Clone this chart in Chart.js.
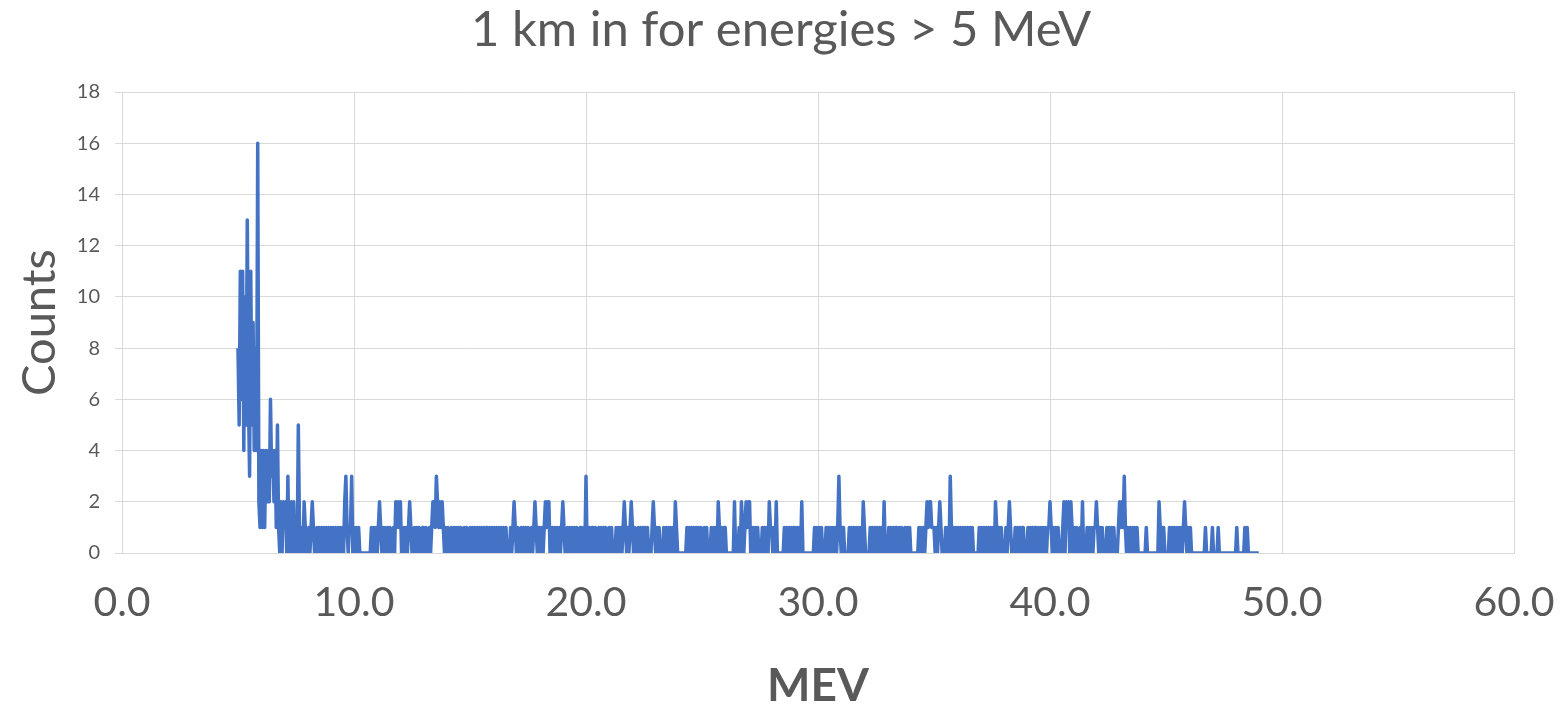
<!DOCTYPE html>
<html>
<head>
<meta charset="utf-8">
<script src="https://cdn.jsdelivr.net/npm/chart.js@4.4.0/dist/chart.umd.min.js"></script>
<style>
  html, body { margin: 0; padding: 0; background: #ffffff; }
  #wrap { width: 1562px; height: 705px; }
</style>
</head>
<body>
<div id="wrap"><canvas id="chart" width="1562" height="705"></canvas></div>
<script>
// Labels
const chartTitle = '1 km in for energies > 5 MeV';
const xAxisTitle = 'MEV';
const yAxisTitle = 'Counts';

// Energy bins: first bin and bin width, in MeV
const binStartMeV = 5.0;
const binWidthMeV = 0.05;

// Counts per 0.05 MeV bin, one row per MeV (5.00 … 49.00)
const counts = [
  8, 5, 11, 6, 11, 4, 10, 5, 13, 6,   3, 11, 5, 9, 4, 8, 4, 16, 2, 1,   // 5
  4, 1, 4, 1, 4, 2, 4, 2, 6, 3,       4, 2, 4, 1, 5, 1, 0, 2, 0, 2,     // 6
  1, 2, 0, 3, 0, 1, 2, 0, 2, 0,       1, 0, 5, 1, 0, 1, 0, 2, 1, 0,     // 7
  0, 1, 0, 1, 2, 1, 0, 0, 1, 0,       1, 0, 1, 0, 1, 0, 1, 0, 1, 0,     // 8
  1, 0, 1, 0, 1, 0, 1, 0, 1, 0,       1, 0, 2, 3, 1, 0, 1, 1, 3, 0,     // 9
  1, 0, 1, 0, 1, 0, 0, 0, 0, 0,       0, 0, 0, 0, 0, 1, 0, 1, 0, 1,     // 10
  0, 1, 2, 1, 0, 1, 0, 1, 0, 1,       0, 1, 0, 0, 1, 0, 2, 1, 2, 1,     // 11
  2, 0, 0, 1, 0, 1, 0, 1, 2, 1,       0, 0, 1, 0, 1, 0, 1, 0, 0, 1,     // 12
  1, 0, 1, 0, 0, 1, 0, 1, 2, 2,       1, 3, 2, 1, 2, 1, 2, 1, 0, 1,     // 13
  0, 1, 0, 0, 1, 0, 1, 0, 1, 0,       1, 0, 1, 0, 0, 1, 0, 1, 0, 0,     // 14
  1, 0, 1, 0, 1, 0, 1, 0, 1, 0,       1, 0, 1, 0, 1, 1, 0, 1, 0, 1,     // 15
  0, 1, 0, 1, 0, 1, 0, 1, 0, 1,       0, 1, 0, 0, 0, 1, 0, 1, 2, 1,     // 16
  0, 1, 0, 0, 1, 0, 1, 0, 1, 0,       1, 0, 0, 1, 0, 1, 2, 1, 0, 1,     // 17
  1, 0, 1, 0, 1, 2, 1, 2, 2, 0,       0, 1, 0, 1, 0, 1, 0, 1, 0, 1,     // 18
  2, 1, 0, 0, 1, 0, 1, 0, 1, 0,       1, 0, 1, 0, 0, 1, 1, 0, 1, 0,     // 19
  3, 0, 0, 1, 0, 1, 1, 0, 1, 0,       0, 1, 0, 1, 0, 1, 0, 1, 0, 0,     // 20
  1, 0, 1, 0, 0, 0, 1, 0, 1, 0,       1, 0, 1, 2, 1, 0, 1, 0, 1, 2,     // 21
  1, 0, 1, 0, 0, 1, 0, 1, 0, 1,       0, 1, 0, 1, 0, 0, 0, 1, 2, 1,     // 22
  0, 1, 0, 1, 0, 0, 0, 1, 0, 1,       0, 1, 0, 1, 0, 1, 0, 2, 1, 0,     // 23
  0, 0, 0, 0, 0, 0, 0, 1, 0, 1,       0, 1, 0, 1, 0, 1, 0, 1, 0, 1,     // 24
  0, 0, 1, 0, 1, 0, 0, 0, 1, 0,       1, 0, 1, 0, 2, 1, 0, 1, 0, 1,     // 25
  1, 0, 0, 0, 0, 0, 0, 0, 2, 0,       0, 0, 1, 0, 2, 1, 0, 1, 2, 1,     // 26
  2, 2, 0, 0, 1, 0, 1, 0, 1, 0,       0, 0, 1, 0, 1, 0, 1, 0, 2, 1,     // 27
  1, 0, 1, 0, 2, 0, 0, 0, 0, 0,       0, 1, 0, 1, 0, 1, 0, 1, 0, 1,     // 28
  1, 0, 1, 0, 1, 0, 2, 0, 0, 0,       0, 0, 0, 0, 0, 0, 0, 1, 0, 1,     // 29
  0, 1, 0, 1, 0, 0, 0, 1, 0, 1,       0, 1, 0, 1, 0, 1, 0, 1, 3, 1,     // 30
  0, 1, 1, 0, 0, 0, 0, 1, 0, 1,       0, 1, 0, 1, 0, 1, 0, 1, 0, 2,     // 31
  1, 0, 0, 0, 0, 1, 0, 1, 0, 1,       0, 1, 0, 1, 0, 1, 0, 2, 0, 0,     // 32
  0, 1, 0, 1, 0, 1, 0, 1, 1, 0,       1, 0, 1, 0, 0, 1, 0, 1, 0, 1,     // 33
  0, 0, 0, 0, 0, 0, 0, 1, 0, 1,       0, 1, 0, 1, 2, 1, 2, 2, 1, 1,     // 34
  1, 0, 1, 0, 1, 2, 1, 0, 0, 0,       1, 0, 1, 0, 3, 1, 0, 1, 0, 1,     // 35
  0, 1, 0, 1, 0, 1, 0, 1, 0, 1,       0, 1, 0, 1, 0, 0, 0, 0, 0, 1,     // 36
  0, 1, 0, 1, 0, 1, 0, 1, 0, 1,       0, 1, 0, 2, 1, 0, 1, 0, 1, 0,     // 37
  0, 0, 1, 0, 1, 2, 1, 0, 0, 0,       1, 0, 1, 0, 1, 0, 1, 1, 0, 0,     // 38
  0, 1, 0, 1, 0, 1, 0, 1, 1, 0,       1, 0, 1, 0, 1, 0, 1, 0, 1, 1,     // 39
  2, 1, 0, 1, 0, 1, 0, 1, 0, 0,       0, 1, 2, 0, 2, 1, 2, 0, 2, 1,     // 40
  0, 1, 0, 1, 0, 0, 1, 0, 2, 0,       0, 0, 1, 0, 1, 0, 1, 0, 1, 1,     // 41
  2, 1, 0, 1, 0, 1, 0, 0, 0, 1,       0, 1, 0, 1, 0, 1, 0, 0, 0, 1,     // 42
  2, 1, 2, 1, 3, 1, 0, 1, 0, 1,       0, 1, 0, 1, 0, 1, 0, 0, 0, 0,     // 43
  0, 0, 0, 1, 0, 0, 0, 0, 0, 0,       0, 0, 0, 0, 2, 1, 0, 1, 1, 0,     // 44
  0, 0, 0, 1, 0, 1, 0, 1, 0, 1,       0, 1, 0, 1, 0, 1, 2, 1, 0, 1,     // 45
  0, 1, 0, 0, 0, 0, 0, 0, 0, 0,       0, 0, 0, 0, 1, 0, 0, 0, 0, 0,     // 46
  1, 0, 0, 0, 0, 1, 0, 0, 0, 0,       0, 0, 0, 0, 0, 0, 0, 0, 0, 0,     // 47
  0, 1, 0, 0, 0, 0, 0, 0, 1, 0,       1, 0, 0, 0, 0, 0, 0, 0, 0, 0,     // 48
  0                                                                     // 49
];

// Axis tick values
const xTickValues = [0, 10, 20, 30, 40, 50, 60];
const yTickValues = [0, 2, 4, 6, 8, 10, 12, 14, 16, 18];

const FONT = 'Lato, "Noto Sans", sans-serif';
const TEXT = '#595959';
const GRID = '#d9d9d9';
const LINE = '#4472c4';

const points = counts.map((c, i) => ({
  x: Math.round((binStartMeV + i * binWidthMeV) * 100) / 100,
  y: c
}));

new Chart(document.getElementById('chart'), {
  type: 'line',
  data: {
    datasets: [{
      data: points,
      borderColor: LINE,
      borderWidth: 3.5,
      borderJoinStyle: 'round',
      pointRadius: 0,
      tension: 0,
      fill: false
    }]
  },
  options: {
    responsive: false,
    animation: false,
    devicePixelRatio: 1,
    layout: { padding: 0 },
    plugins: {
      legend: { display: false },
      tooltip: { enabled: false },
      title: {
        display: true,
        text: chartTitle,
        color: TEXT,
        font: { family: FONT, size: 49, weight: 'normal', lineHeight: 1.2 },
        padding: { top: 1, bottom: 32.2 }
      }
    },
    scales: {
      x: {
        type: 'linear',
        min: 0,
        max: 60,
        afterBuildTicks: s => { s.ticks = xTickValues.map(v => ({ value: v })); },
        afterFit: s => { s.height = 152; s.paddingRight = 48; s.paddingLeft = 0; },
        ticks: {
          callback: v => Number(v).toFixed(1),
          color: TEXT,
          font: { family: FONT, size: 41 },
          padding: 25,
          maxRotation: 0,
          autoSkip: false
        },
        grid: { color: GRID, lineWidth: 1, drawTicks: false },
        border: { color: GRID },
        title: {
          display: true,
          text: xAxisTitle,
          color: TEXT,
          font: { family: FONT, size: 46, weight: 'bold', lineHeight: 0.8 },
          padding: { top: 0, bottom: 0 }
        }
      },
      y: {
        min: 0,
        max: 18,
        afterBuildTicks: s => { s.ticks = yTickValues.map(v => ({ value: v })); },
        afterFit: s => { s.width = 122; },
        ticks: {
          color: TEXT,
          font: { family: FONT, size: 20 },
          padding: 15
        },
        grid: { color: GRID, lineWidth: 1, tickLength: 7 },
        border: { color: GRID },
        title: {
          display: true,
          text: yAxisTitle,
          color: TEXT,
          font: { family: FONT, size: 47, weight: 'normal', lineHeight: 1.2 },
          padding: { top: 12, bottom: 0 }
        }
      }
    }
  }
});
</script>
</body>
</html>
